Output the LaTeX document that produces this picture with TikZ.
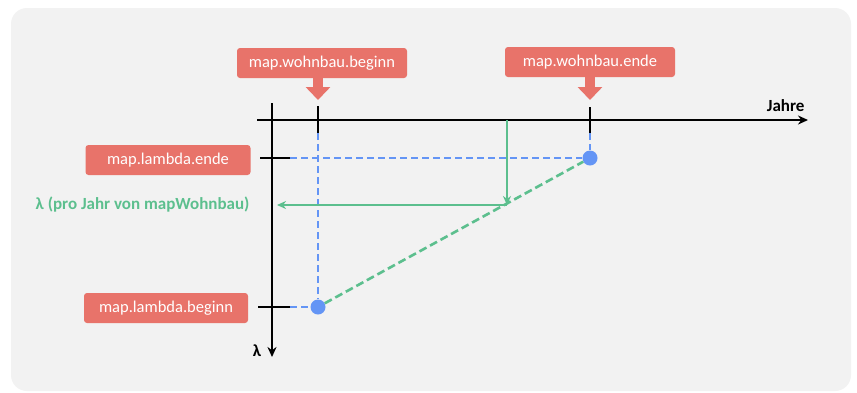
\documentclass[tikz,border=0pt]{standalone}
\usepackage{fontspec}
\setmainfont{Carlito}
\usetikzlibrary{arrows.meta}
\definecolor{bgpanel}{HTML}{F2F2F2}
\definecolor{boxred}{HTML}{E8736A}
\definecolor{ptblue}{HTML}{6495F5}
\definecolor{lgreen}{HTML}{5CBF8E}
\tikzset{
  redbox/.style={fill=boxred, rounded corners=3pt, text=white, font=\fontsize{16.5}{19}\selectfont, minimum height=30pt, inner xsep=8pt},
  redarrow/.style={boxred, line width=10pt, -{Triangle[length=13pt,width=24pt]}},
  axis/.style={black, line width=2.7pt},
  axisarrow/.style={axis, -{Stealth[length=10pt,width=9pt]}},
  tick/.style={black, line width=2.7pt},
  bdash/.style={ptblue, line width=2.3pt, dash pattern=on 7pt off 4pt},
  gdash/.style={lgreen, line width=2.6pt, dash pattern=on 8pt off 4pt},
  garrow/.style={lgreen, line width=2.2pt, -{Stealth[length=9pt,width=8pt]}},
  dot/.style={circle, fill=ptblue, minimum size=15pt, inner sep=0pt},
  lbl/.style={font=\bfseries\fontsize{17}{20}\selectfont}
}
\begin{document}
\begin{tikzpicture}[x=1pt,y=-1pt]
\useasboundingbox (0,0) rectangle (857,392);
\fill[white] (0,0) rectangle (857,392);
\fill[bgpanel, rounded corners=16pt] (11,8) rectangle (851,391);

% coordinates
\coordinate (xs) at (257,120);
\coordinate (xe) at (808,120);
\coordinate (ys) at (272,103);
\coordinate (ye) at (272,357);
\coordinate (t1a) at (318,106);
\coordinate (t1b) at (318,133);
\coordinate (t2a) at (590,107);
\coordinate (t2b) at (590,133);
\coordinate (h1a) at (260,158);
\coordinate (h1b) at (290,158);
\coordinate (h2a) at (258,307);
\coordinate (h2b) at (290,307);
\coordinate (g1) at (507,120);
\coordinate (g2) at (507,205);
\coordinate (g3) at (277,205);

% boxes
\node[redbox, minimum width=170pt] (wb) at (322,63) {map.wohnbau.beginn};
\node[redbox, minimum width=170pt] (we) at (590,62) {map.wohnbau.ende};
\node[redbox, minimum width=165pt] (le) at (168,160) {map.lambda.ende};
\node[redbox, minimum width=164pt] (lb) at (166,308) {map.lambda.beginn};

% red arrows
\coordinate (wbt) at (318,100);
\coordinate (wet) at (590,100);
\draw[redarrow] (wb.south -| wbt) -- (wbt);
\draw[redarrow] (we.south -| wet) -- (wet);

% dots
\node[dot] (p1) at (318,307) {};
\node[dot] (p2) at (590,158) {};

% blue dashed guides
\draw[bdash] (t1b) -- (p1);
\draw[bdash] (t2b) -- (p2);
\draw[bdash] (h1b) -- (p2);
\draw[bdash] (h2b) -- (p1);

% green dashed slope
\draw[gdash] (p1) -- (p2);

% axes
\draw[axisarrow] (xs) -- (xe);
\draw[axisarrow] (ys) -- (ye);
\draw[tick] (t1a) -- (t1b);
\draw[tick] (t2a) -- (t2b);
\draw[tick] (h1a) -- (h1b);
\draw[tick] (h2a) -- (h2b);

% green arrows
\draw[garrow] (g1) -- (g2);
\draw[garrow] (g2) -- (g3);

% labels
\node[lbl, anchor=base east] (jahre) at (808,111) {Jahre};
\node[lbl, anchor=base] (lam) at (257,356) {λ};
\node[lbl, text=lgreen, anchor=east] (gl) at (253,205) {λ (pro Jahr von mapWohnbau)};
\end{tikzpicture}
\end{document}
